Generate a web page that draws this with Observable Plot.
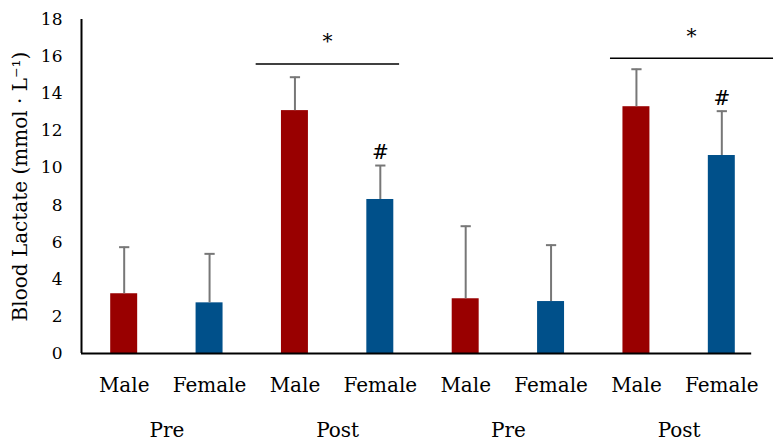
<!DOCTYPE html>
<html><head><meta charset="utf-8">
<script src="https://cdn.jsdelivr.net/npm/d3@7"></script>
<script src="https://cdn.jsdelivr.net/npm/@observablehq/plot@0.6"></script>
<style>body{margin:0;background:#fff}</style>
</head><body><div id="chart"></div>
<script>
const sexes = ["Male","Female","Male","Female","Male","Female","Male","Female"];
const groups = ["Pre","Post","Pre","Post"];
const means = [3.22, 2.73, 13.09, 8.30, 2.95, 2.80, 13.30, 10.67];
const sds = [2.51, 2.64, 1.80, 1.83, 3.91, 3.04, 2.02, 2.39];
const hashMarks = [false, false, false, true, false, false, false, true];
const sigFrom = [1.54, 5.69];
const sigTo = [3.22, 7.60];
const sigLevel = [15.6, 15.91];
const sigLabel = ["*", "*"];
const yTicks = [0, 2, 4, 6, 8, 10, 12, 14, 16, 18];
const yLabel = "Blood Lactate (mmol · L⁻¹)";

const bars = means.map((m, i) => ({i, sex: sexes[i], mean: m, top: m + sds[i], hash: hashMarks[i]}));
const groupRows = groups.map((g, k) => ({g, x: 2 * k + 0.5}));
const sig = sigFrom.map((a, k) => ({x1: a, x2: sigTo[k], y: sigLevel[k], label: sigLabel[k]}));
const colors = {Male: "#990000", Female: "#00508a"};
const hw = 0.158, cap = 0.06;

const chart = Plot.plot({
  width: 783, height: 447,
  marginLeft: 81, marginRight: 19, marginTop: 19, marginBottom: 94,
  style: {fontFamily: "DejaVu Serif", fontSize: "17px", background: "#fff", color: "#000"},
  x: {type: "linear", domain: [-0.5, 7.5], axis: null},
  y: {domain: [0, 18]},
  color: {type: "identity"},
  marks: [
    Plot.axisY({ticks: yTicks, tickSize: 0, tickPadding: 19, fontSize: 17, label: null}),
    Plot.text([yLabel], {frameAnchor: "left", text: d => d, rotate: -90, textAnchor: "middle", dx: -61, fontSize: 20}),
    Plot.rectY(bars, {x1: d => d.i - hw, x2: d => d.i + hw, y1: 0, y2: "mean", fill: d => colors[d.sex]}),
    Plot.ruleX(bars, {x: "i", y1: "mean", y2: "top", stroke: "#777", strokeWidth: 2}),
    Plot.link(bars, {x1: d => d.i - cap, x2: d => d.i + cap, y1: "top", y2: "top", stroke: "#777", strokeWidth: 2}),
    Plot.text(bars.filter(d => d.hash), {x: "i", y: "top", text: () => "#", dy: -13, fontSize: 20}),
    Plot.ruleY([0], {x1: -0.5, x2: 7.35, stroke: "#000", strokeWidth: 2}),
    Plot.ruleX([-0.5], {y1: 0, y2: 18, stroke: "#000", strokeWidth: 2}),
    Plot.text(bars, {x: "i", y: 0, text: "sex", dy: 32, fontSize: 20}),
    Plot.text(groupRows, {x: "x", y: 0, text: "g", dy: 77.5, fontSize: 20}),
    Plot.link(sig, {x1: "x1", x2: "x2", y1: "y", y2: "y", stroke: "#000", strokeWidth: 1.5}),
    Plot.text(sig, {x: d => (d.x1 + d.x2) / 2, y: "y", text: "label", dy: -22, fontSize: 20})
  ]
});
document.getElementById("chart").appendChild(chart);
</script>
</body></html>
